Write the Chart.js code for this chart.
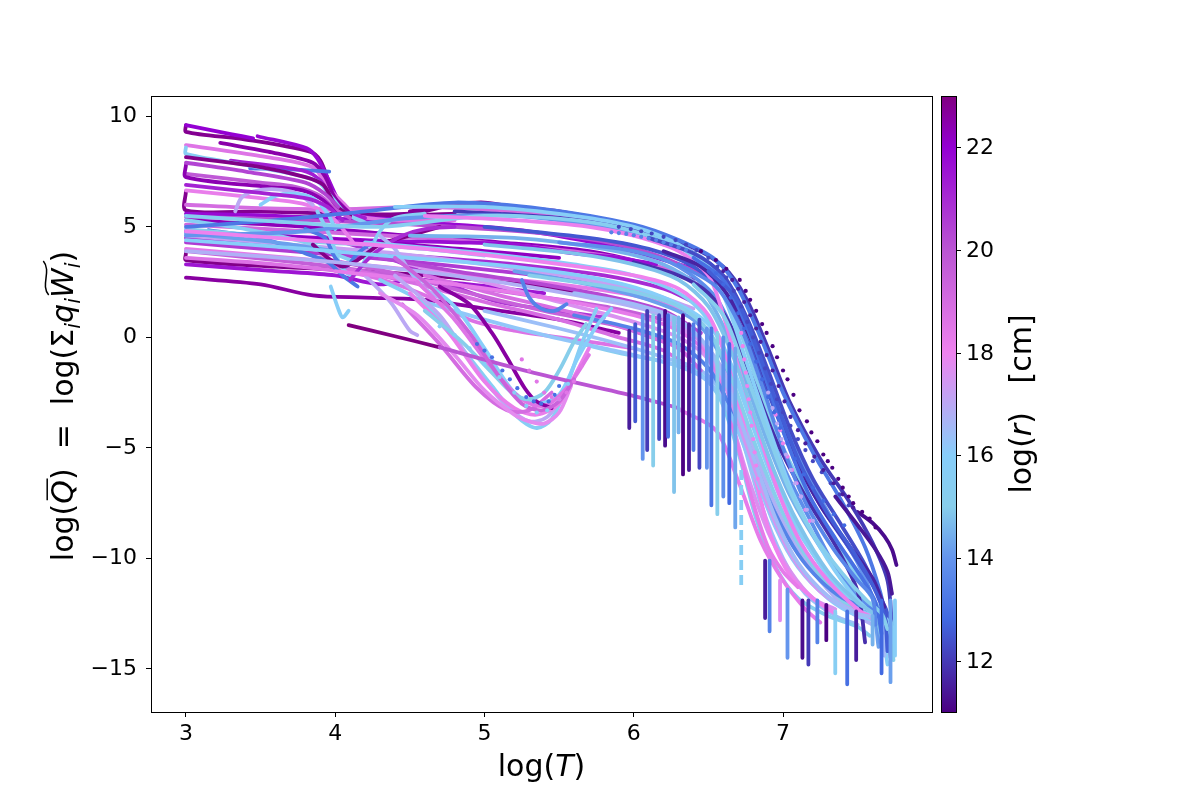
<!DOCTYPE html>
<html>
<head>
<meta charset="utf-8">
<script src="https://cdn.jsdelivr.net/npm/chart.js@4.4.1/dist/chart.umd.min.js"></script>
<style>
  html, body { margin: 0; padding: 0; background: #fff; }
  #wrap { width: 1200px; height: 800px; }
</style>
</head>
<body>
<div id="wrap"><canvas id="chart" width="1200" height="800"></canvas></div>
<script>
// ---- axis ticks ----
const xTicks = [3, 4, 5, 6, 7];
const yTicks = [-15, -10, -5, 0, 5, 10];
const cbTicks = [12, 14, 16, 18, 20, 22];

// colour scale for log(r)
const cmapStops = [[11, '#4b0082'], [12.8, '#4169e1'], [14, '#6495ed'], [15, '#87ceeb'],
  [16, '#87cefa'], [18, '#ee82ee'], [20, '#ba55d3'], [22, '#9400d3'], [23, '#800080']];

// ---- curves: [log T, log Q] points, one log r per curve ----
// high curves on the left that fall off near log T = 4
const topPaths = [
  [[3, 9.6], [3, 9.3], [3.4, 8.95], [3.83, 8.4], [3.9, 8.0], [3.96, 7.0], [4.03, 6.0], [4.12, 5.6], [4.4, 5.5], [4.8, 5.6]],
  [[3.48, 9.1], [3.81, 8.55], [3.88, 8.1], [3.95, 7.2], [4.04, 6.0], [4.15, 5.5], [4.5, 5.3]],
  [[3, 8.7], [3.5, 8.2], [3.85, 7.7], [3.95, 6.8], [4.05, 6.1], [4.15, 5.5], [4.4, 5.3], [4.8, 5.3]],
  [[3.23, 8.8], [3.55, 8.4], [3.85, 7.9], [3.93, 7.3], [4.0, 6.3], [4.1, 5.6]],
  [[3.43, 7.65], [3.7, 7.6], [3.96, 7.5]],
  [[3.3, 8.0], [3.78, 7.55], [3.9, 7.1], [3.97, 6.3], [4.05, 5.7], [4.2, 5.4]],
  [[3, 8.6], [3, 8.3], [3.4, 7.8], [3.87, 7.1], [3.97, 6.4], [4.07, 5.6], [4.2, 5.2]],
  [[3, 8.15], [3.5, 7.7], [3.8, 7.25], [3.92, 6.9], [4.0, 6.0], [4.1, 5.5]],
  [[3, 7.4], [3.5, 7.0], [3.74, 6.8], [3.9, 6.4], [4.0, 5.8], [4.1, 5.4]],
  [[3, 7.8], [3, 7.25], [3.56, 6.8], [3.78, 6.65], [3.92, 6.2], [4.02, 5.5]],
  [[3, 6.65], [3.5, 6.3], [3.78, 6.05], [3.95, 5.6], [4.05, 4.9], [4.12, 4.3]],
  [[3.33, 5.7], [3.37, 6.3], [3.45, 6.6], [3.6, 6.7], [3.75, 6.5], [3.85, 6.0]],
  [[3.5, 6.0], [3.6, 6.4], [3.72, 6.5], [3.85, 6.3], [3.95, 5.6], [4.0, 4.9]],
  [[3, 9.6], [3.3, 9.2], [3.45, 9.0]],
  [[3, 7.9], [3.4, 7.5], [3.8, 7.0], [3.93, 6.5], [4.02, 5.9]],
  [[3, 6.9], [3.4, 6.6], [3.8, 6.3], [3.95, 5.9], [4.05, 5.3]]
];
const topR = [22.8, 21.8, 18.6, 22.5, 13.2, 21.3, 15.6, 22.9, 19.8, 22.4, 18.2, 17.0, 16.0, 22.0, 20.4, 21.2];

// the wide band of large-r curves that stops before the steep fall
const bandPaths = [
  [[3, 6.6], [3, 5.75], [3.5, 5.7], [4.0, 5.6], [4.5, 5.6], [4.8, 6.0], [5.0, 6.1], [5.2, 5.9], [5.5, 5.7], [5.8, 5.3], [6.0, 4.9]],
  [[3, 5.6], [3.6, 5.5], [4.2, 5.3], [4.8, 5.1], [5.3, 4.8], [5.8, 4.2], [6.1, 3.7], [6.4, 3.1]],
  [[3, 5.45], [3.6, 5.35], [4.2, 5.2], [4.8, 5.0], [5.4, 4.7], [5.9, 4.2], [6.2, 3.6], [6.5, 2.7]],
  [[3, 5.3], [3.8, 5.0], [4.5, 4.6], [5.1, 4.3], [5.7, 3.9], [6.1, 3.3], [6.4, 2.6]],
  [[3, 5.1], [3.8, 4.8], [4.6, 4.5], [5.3, 4.1], [5.9, 3.6], [6.3, 2.9], [6.55, 1.8]],
  [[3, 4.5], [3.8, 4.1], [4.5, 3.7], [5.2, 3.3], [5.8, 2.8], [6.2, 2.2], [6.4, 1.6]],
  [[3, 4.3], [3.7, 3.9], [4.4, 3.5], [5.1, 3.0], [5.7, 2.5], [6.1, 1.9], [6.35, 1.2]],
  [[3, 3.8], [3, 3.5], [3.6, 3.2], [4.2, 3.0], [4.8, 2.7], [5.4, 2.3], [5.9, 1.7], [6.2, 1.1]],
  [[3, 2.7], [3.5, 2.4], [3.85, 1.9], [4.2, 1.8], [4.6, 1.7], [5.0, 1.3], [5.5, 0.8], [5.9, 0.2]],
  [[3, 3.9], [3.6, 3.5], [4.1, 3.1], [4.6, 2.6], [5.2, 2.0], [5.8, 1.4], [6.2, 0.8]],
  [[3, 3.3], [3.6, 3.0], [4.0, 2.8], [4.3, 2.4], [4.5, 2.6], [4.9, 2.4], [5.4, 2.0]],
  [[3, 4.0], [3.7, 3.6], [4.3, 3.2], [4.9, 2.8], [5.5, 2.4], [6.0, 1.9], [6.3, 1.3]],
  [[4.5, 5.7], [4.75, 6.0], [5.0, 6.0], [5.2, 5.6], [5.4, 5.6], [5.6, 5.3]],
  [[3.6, 4.6], [4.2, 4.4], [4.8, 4.3], [5.2, 4.2], [5.6, 3.8], [5.9, 3.6], [6.15, 3.3]],
  [[3, 6.0], [3.5, 5.85], [4.0, 5.8], [4.6, 5.9], [5.2, 5.7], [5.8, 5.2], [6.2, 4.6], [6.45, 3.6]],
  [[3.9, 4.6], [4.2, 4.0], [4.5, 3.2], [4.8, 2.3], [5.1, 1.6], [5.5, 1.2], [5.8, 0.9]],
  [[3, 3.6], [3.6, 3.3], [4.2, 2.8], [4.6, 1.9], [4.9, 0.8], [5.2, 0.3], [5.6, -0.1], [6.0, -0.5]],
  [[3, 4.8], [3.8, 4.5], [4.5, 4.2], [5.0, 3.9], [5.5, 3.6]],
  [[3, 4.6], [3.7, 4.2], [4.4, 3.8], [5.0, 3.3], [5.6, 2.7], [6.1, 2.0], [6.4, 1.3]]
];
const bandR = [22.8, 21.8, 20.2, 22.3, 19.2, 21.0, 20.6, 22.9, 22.6, 19.6, 21.5, 18.4, 22.7, 21.7, 19.0, 20.8, 18.7, 22.2, 17.2];

// mid-range curves filling the lower part of the band
const midPaths = [
  [[4.0, 3.2], [4.5, 2.5], [5.0, 1.6], [5.5, 0.8], [5.9, 0.0], [6.2, -0.6], [6.4, -1.5]],
  [[3.9, 3.6], [4.4, 2.9], [4.9, 2.0], [5.4, 1.2], [5.9, 0.5], [6.2, -0.2]],
  [[5.0, 1.2], [5.5, 0.4], [5.9, -0.3], [6.2, -0.9], [6.45, -1.5], [6.6, -2.6], [6.72, -4.5], [6.85, -7.5], [7.0, -10], [7.15, -11.6], [7.35, -12.6], [7.5, -13.0]],
  [[4.5, 3.3], [5.0, 2.5], [5.5, 1.6], [6.0, 0.7], [6.3, 0.0], [6.5, -1.0], [6.62, -3.0], [6.75, -6], [6.9, -8.8], [7.05, -10.6], [7.2, -11.8], [7.35, -12.3]],
  [[4.6, 2.8], [5.1, 1.9], [5.6, 1.1], [6.0, 0.3], [6.3, -0.5], [6.45, -1.5]],
  [[4.3, 3.6], [4.8, 3.0], [5.3, 2.5], [5.8, 1.9], [6.2, 1.2], [6.45, 0.2]],
  [[5.6, -0.2], [5.9, -0.7], [6.2, -1.1], [6.45, -1.7], [6.58, -2.8], [6.7, -5.2], [6.82, -8.2], [6.95, -10.4], [7.1, -11.8], [7.3, -12.6], [7.5, -13.1], [7.58, -13.5]],
  [[5.2, 3.0], [5.7, 2.4], [6.1, 1.7], [6.4, 0.8], [6.58, -0.8], [6.72, -3.4], [6.88, -6.5], [7.05, -9.0], [7.25, -11.0], [7.45, -12.2], [7.6, -12.6], [7.64, -14.0]]
];
const midR = [18.9, 19.5, 16.4, 17.6, 18.9, 20.3, 15.3, 14.2];

// small-r curves on the left and the wiggles near log T = 4
const leftPaths = [
  [[3, 5.3], [3.4, 4.9], [3.8, 4.3], [3.95, 3.9], [4.1, 3.5]],
  [[3.15, 4.85], [3.5, 4.5], [3.8, 3.8], [3.95, 3.4], [4.05, 2.8], [4.15, 2.3]],
  [[3, 4.9], [3.5, 4.6], [3.9, 4.3], [4.2, 4.2], [4.6, 4.0], [5.0, 3.7]],
  [[3, 4.7], [3.6, 4.3], [4.0, 3.9]],
  [[3.88, 5.7], [3.97, 4.5], [4.04, 3.2], [4.12, 2.8], [4.2, 3.5], [4.3, 4.8], [4.4, 5.4], [4.6, 5.6]],
  [[3.8, 4.9], [3.93, 4.5], [4.0, 3.6], [4.07, 3.2], [4.15, 3.8], [4.25, 4.3]],
  [[3.85, 4.2], [3.95, 3.6], [4.05, 3.2], [4.15, 3.5], [4.3, 4.2], [4.5, 4.6], [4.7, 5.0]],
  [[4.1, 2.6], [4.2, 3.4], [4.3, 4.0], [4.45, 4.6], [4.6, 4.9], [4.8, 5.0]],
  [[4.3, 4.6], [4.4, 4.0], [4.5, 3.0], [4.6, 2.2], [4.7, 1.8]],
  [[3.97, 2.3], [4.02, 1.3], [4.05, 0.9], [4.09, 1.2]],
  [[4.2, 2.8], [4.37, 1.6], [4.5, 0.3], [4.55, 0.1]]
];
const leftR = [15.5, 13.2, 15.0, 14.2, 15.6, 13.2, 22.9, 21.0, 16.8, 15.8, 17.0];

// curves that run through the knee and down the steep side
const steepPaths = [
  [[7.5, -7.9], [7.6, -8.4], [7.68, -9.0], [7.73, -9.6], [7.76, -10.3]],
  [[4.8, 5.7], [5.5, 5.4], [6.0, 4.9], [6.35, 4.2], [6.6, 3.2], [6.75, 1.8], [6.9, -0.5], [7.05, -3], [7.25, -5.5], [7.45, -7.5], [7.6, -9.3], [7.7, -11], [7.73, -13]],
  [[3, 5.0], [3.6, 5.3], [4.2, 5.7], [4.8, 6.1], [5.4, 5.8], [6.0, 5.1], [6.3, 4.4], [6.55, 3.5], [6.7, 2.2], [6.85, 0], [7.0, -2.5], [7.2, -5.2], [7.4, -7.5], [7.55, -9.5], [7.65, -11.5], [7.7, -13.0]],
  [[3, 4.6], [3.8, 4.8], [4.5, 5.4], [5.2, 5.5], [5.8, 5.0], [6.2, 4.4], [6.5, 3.4], [6.65, 2.0], [6.8, -0.5], [6.95, -3], [7.15, -6], [7.35, -8.5], [7.5, -10.2], [7.6, -11.8], [7.65, -13.8]],
  [[3, 5.5], [3.7, 5.2], [4.3, 5.0], [5.0, 5.5], [5.6, 5.3], [6.0, 4.8], [6.35, 3.9], [6.55, 2.5], [6.7, 0.5], [6.85, -2.5], [7.0, -5.0], [7.2, -7.6], [7.4, -9.8], [7.55, -11.3], [7.65, -12.3], [7.72, -12.8], [7.74, -14]],
  [[3, 4.4], [3.8, 4.0], [4.5, 3.6], [5.2, 3.2], [5.8, 2.6], [6.2, 1.8], [6.5, 0.6], [6.65, -1.2], [6.8, -3.8], [6.95, -6.5], [7.1, -8.6], [7.3, -10.8], [7.5, -12.3], [7.65, -12.8], [7.7, -13.6]],
  [[5.0, 5.0], [5.7, 4.5], [6.1, 4.0], [6.4, 3.2], [6.6, 2.0], [6.75, 0], [6.9, -2.5], [7.05, -5], [7.25, -7.6], [7.45, -9.6], [7.6, -11.2], [7.7, -12.5], [7.72, -14.5]],
  [[4.5, 4.6], [5.2, 4.5], [5.8, 4.0], [6.2, 3.3], [6.45, 2.2], [6.6, 0.5], [6.75, -2.0], [6.9, -4.8], [7.05, -7.2], [7.25, -9.5], [7.45, -11.3], [7.6, -12.3], [7.68, -13]],
  [[4.2, 4.3], [5.0, 3.8], [5.6, 3.3], [6.0, 2.8], [6.35, 1.8], [6.55, 0.3], [6.7, -2.2], [6.85, -5], [7.0, -7.5], [7.2, -9.8], [7.4, -11.5], [7.55, -12.5], [7.65, -12.9], [7.7, -14.8]],
  [[3, 3.9], [4.0, 3.4], [5.0, 2.6], [5.7, 1.8], [6.1, 1.2], [6.4, 0.2], [6.6, -1.5], [6.75, -4], [6.9, -6.8], [7.05, -9], [7.25, -11], [7.45, -12.4], [7.6, -13]],
  [[3, 4.8], [3.8, 4.4], [4.6, 4.0], [5.4, 3.4], [6.0, 2.8], [6.3, 2.2], [6.5, 1.0], [6.62, -1], [6.72, -3.5], [6.82, -6.5], [6.92, -9], [7.05, -10.8], [7.2, -11.8], [7.35, -12.5]],
  [[4.0, 3.0], [4.8, 2.4], [5.5, 1.7], [6.0, 1.0], [6.3, 0.3], [6.5, -0.8], [6.6, -2.5], [6.7, -5], [6.8, -7.5], [6.9, -9.5], [7.0, -10.6], [7.1, -11.3]],
  [[5.5, 4.3], [6.0, 3.9], [6.3, 3.2], [6.55, 1.8], [6.7, -0.3], [6.85, -3], [7.0, -5.8], [7.2, -8.5], [7.35, -10.4], [7.5, -11.8], [7.62, -12.4], [7.68, -14.2]],
  [[6.0, 3.4], [6.3, 2.8], [6.5, 2.0], [6.65, 0.5], [6.8, -2.0], [6.95, -4.6], [7.15, -7.2], [7.35, -9.4], [7.5, -11.5], [7.55, -13.8]],
  [[5.3, 2.8], [5.9, 2.2], [6.3, 1.4], [6.5, 0.3], [6.65, -1.8], [6.8, -4.6], [6.95, -7.2], [7.1, -9.3], [7.3, -11.2], [7.5, -12.5], [7.7, -13.1], [7.74, -14.6]],
  [[5.6, 1.0], [6.0, 0.4], [6.3, -0.3], [6.5, -1.4], [6.65, -3.2], [6.8, -5.7], [6.95, -8], [7.1, -9.8], [7.25, -11], [7.4, -11.8], [7.55, -12.2], [7.65, -12.3]],
  [[4.6, 1.6], [5.0, 0.8], [5.4, 0.1], [5.8, -0.5], [6.0, -0.8], [6.3, -1.3], [6.5, -2.0], [6.65, -3.5], [6.8, -6], [6.95, -8.6], [7.1, -10.4], [7.3, -11.8], [7.5, -12.6], [7.7, -12.9]],
  [[6.2, 0.8], [6.45, -0.2], [6.6, -2.0], [6.75, -4.8], [6.9, -7.6], [7.05, -9.8], [7.25, -11.5], [7.45, -12.3], [7.6, -12.6]],
  [[4.4, 5.9], [5.0, 5.9], [5.6, 5.5], [6.0, 5.0], [6.3, 4.2], [6.5, 3.2], [6.62, 1.6], [6.75, -1], [6.9, -4], [7.05, -6.8], [7.25, -9.5], [7.45, -11.5], [7.6, -12.5], [7.7, -12.8], [7.73, -13.8]],
  [[4.6, 5.5], [5.2, 5.3], [5.7, 5.0], [6.0, 4.6], [6.3, 3.9], [6.5, 2.8], [6.6, 1.0], [6.72, -1.8], [6.85, -4.6], [6.98, -7.2], [7.12, -9.3], [7.3, -11], [7.5, -12.3], [7.62, -12.8]],
  [[6.1, 4.5], [6.4, 3.8], [6.6, 2.8], [6.75, 1.0], [6.9, -1.5], [7.05, -4.2], [7.2, -6.4], [7.4, -8.6], [7.55, -10.3], [7.65, -11.8], [7.7, -13.2]],
  [[5.0, 4.2], [5.6, 3.8], [6.0, 3.3], [6.3, 2.6], [6.5, 1.4], [6.65, -0.6], [6.8, -3.4], [6.95, -6.2], [7.1, -8.4], [7.3, -10.6], [7.5, -12.0], [7.62, -12.6], [7.66, -13.6]],
  [[6.2, 3.9], [6.45, 3.2], [6.62, 2.0], [6.78, 0], [6.92, -2.6], [7.08, -5.4], [7.25, -7.6], [7.45, -9.5], [7.6, -10.9], [7.68, -12.2]],
  [[5.6, 2.0], [6.0, 1.5], [6.3, 0.8], [6.5, -0.5], [6.65, -2.6], [6.8, -5.4], [6.95, -8.2], [7.1, -10.2], [7.3, -11.7], [7.5, -12.5], [7.65, -12.8], [7.68, -14.4]],
  [[6.4, 3.6], [6.6, 2.6], [6.75, 0.6], [6.88, -1.8], [7.02, -4.6], [7.18, -7.2], [7.36, -9.2], [7.52, -10.8], [7.62, -12.0], [7.66, -13.4]],
  [[6.5, 3.0], [6.68, 1.8], [6.82, -0.4], [6.97, -3.2], [7.12, -5.8], [7.3, -8.0], [7.48, -9.8], [7.6, -11.2], [7.68, -12.6], [7.7, -14.2]],
  [[6.4, 2.4], [6.6, 1.0], [6.75, -1.6], [6.9, -4.4], [7.05, -7.0], [7.22, -9.1], [7.4, -10.7], [7.56, -11.9], [7.66, -12.5], [7.7, -13.2]],
  [[6.3, 3.3], [6.55, 2.3], [6.72, 0.4], [6.86, -2.2], [7.0, -5.0], [7.16, -7.6], [7.34, -9.6], [7.5, -11.0], [7.6, -11.8], [7.62, -13.0]],
  [[7.35, -7.2], [7.5, -8.5], [7.62, -9.6], [7.7, -10.6], [7.73, -11.6]]
];
const steepR = [11.2, 12.0, 13.2, 14.0, 15.3, 16.0, 12.5, 14.5, 15.8, 16.8, 18.0, 18.3, 13.8, 11.8, 15.0, 13.5, 16.2, 17.5, 15.8, 18.1, 12.3, 14.8, 11.6, 16.5, 13.0, 12.6, 15.1, 13.6, 11.4];

// curves dipping to a minimum near log T = 5.4, and the long low line
const dipPaths = [
  [[4.3, 2.6], [4.6, 1.5], [4.85, -0.5], [5.05, -2.2], [5.22, -3.6], [5.35, -4.1], [5.45, -3.7], [5.55, -2.2], [5.65, -0.3], [5.75, 1.3]],
  [[4.4, 2.8], [4.7, 1.0], [4.95, -1.5], [5.15, -3.1], [5.3, -3.8], [5.42, -3.6], [5.52, -2.7]],
  [[4.5, 2.0], [4.75, 0.3], [5.0, -2.0], [5.2, -3.2], [5.35, -3.5], [5.5, -3.0], [5.6, -1.8], [5.7, -0.5]],
  [[4.45, 1.5], [4.7, -0.3], [4.95, -2.3], [5.15, -3.3], [5.3, -3.3], [5.45, -2.5]],
  [[4.5, 3.0], [4.8, 1.4], [5.0, -0.5], [5.2, -2.5], [5.35, -3.0], [5.5, -2.6], [5.62, -1.0], [5.75, 0.5], [5.85, 1.3]],
  [[4.55, 2.5], [4.8, 0.8], [5.05, -1.4], [5.25, -2.8], [5.4, -3.1], [5.55, -2.3], [5.7, -0.8]],
  [[4.7, 2.3], [4.9, 1.5], [5.05, 0.2], [5.15, -0.9], [5.27, -2.3], [5.35, -2.9], [5.45, -3.2]],
  [[4.3, 2.0], [4.55, 1.0], [4.8, -0.8], [5.0, -2.4], [5.2, -3.5], [5.3, -3.8], [5.4, -3.9], [5.5, -3.4], [5.58, -2.2]],
  [[4.6, 1.2], [4.85, -0.2], [5.05, -1.6], [5.2, -2.6], [5.3, -2.8], [5.4, -2.5], [5.5, -1.5], [5.6, -0.2], [5.68, 0.6]],
  [[5.25, 2.6], [5.3, 1.8], [5.38, 1.3], [5.47, 1.2], [5.55, 1.5]],
  [[4.09, 0.55], [4.4, 0.05], [4.7, -0.45]],
  [[4.7, -0.45], [5.3, -1.55], [6.03, -2.7], [6.3, -3.2]],
  [[6.3, -3.25], [6.55, -4.2], [6.7, -6.5], [6.85, -9.2], [7.0, -11.0], [7.15, -12.3], [7.25, -12.9]],
  [[4.4, 3.6], [4.65, 2.2], [4.9, 0.2], [5.1, -1.8], [5.25, -3.0], [5.38, -3.3], [5.5, -2.9], [5.6, -1.9]]
];
const dipR = [15.6, 17.0, 18.2, 19.0, 16.0, 18.6, 22.6, 17.8, 15.0, 13.5, 23.0, 20.0, 18.3, 19.4];

// thin vertical drops: log T, top and bottom log Q, log r
const spikeX   = [5.97, 6.01, 6.06, 6.09, 6.13, 6.17, 6.21, 6.23, 6.27, 6.30, 6.33, 6.37, 6.40, 6.44, 6.49, 6.52, 6.56, 6.60, 6.64, 6.68, 6.88, 6.91, 6.98, 7.03, 7.13, 7.17, 7.23, 7.29, 7.35, 7.43, 7.49, 7.60, 7.66, 7.72, 7.75];
const spikeTop = [0.3, 0.6, 1.0, 1.2, 1.0, 1.0, 1.2, 1.0, 0.9, 0.9, 1.0, 0.6, 0.6, 0.8, 0.4, 0.4, 0.2, 0.0, -0.3, -0.5, -10.1, -10.1, -11.0, -11.4, -11.9, -11.9, -11.9, -12.1, -12.4, -12.4, -12.4, -12.6, -11.9, -11.9, -11.9];
const spikeBot = [-4.1, -3.8, -5.5, -5.1, -5.8, -4.6, -4.9, -4.5, -7.0, -4.3, -6.2, -6.0, -5.1, -5.9, -5.9, -7.6, -8.0, -7.2, -7.5, -8.6, -12.7, -13.3, -12.8, -14.5, -14.5, -14.8, -13.8, -13.7, -15.2, -15.7, -14.6, -13.9, -15.2, -15.6, -14.4];
const spikeR   = [11.5, 12.5, 14.0, 12.0, 15.0, 12.2, 11.2, 13.0, 14.8, 14.5, 11.0, 11.4, 13.3, 12.2, 14.0, 13.1, 15.0, 13.8, 12.8, 14.3, 11.5, 13.5, 17.8, 14.0, 11.2, 12.0, 13.5, 11.0, 15.5, 13.0, 11.5, 14.5, 12.8, 14.2, 15.8];
// broken light-blue drop at log T = 6.72
const dashX = 6.72, dashTop = -6.0, dashBot = -11.4, dashR = 15.6;

// series drawn as loose dots
const dotPaths = [
  [[6.45, 3.9], [6.55, 3.5], [6.62, 3.1], [6.71, 2.6], [6.75, 2.1], [6.78, 1.7], [6.82, 1.2], [6.86, 0.6], [6.89, 0.2], [6.93, -0.4], [6.96, -0.9], [7.0, -1.5], [7.03, -1.9], [7.07, -2.6], [7.11, -3.3], [7.16, -3.8], [7.19, -4.3], [7.23, -4.7], [7.27, -5.3], [7.3, -5.6], [7.33, -5.9], [7.37, -6.4], [7.4, -6.8], [7.44, -7.2], [7.47, -7.5], [7.53, -7.9], [7.58, -8.2], [7.62, -8.6]],
  [[5.9, 5.0], [5.98, 4.9], [6.05, 4.8], [6.12, 4.7], [6.2, 4.55], [6.28, 4.4], [6.35, 4.2], [6.42, 3.95], [6.5, 3.6], [6.56, 3.2], [6.62, 2.7], [6.67, 2.1], [6.72, 1.4], [6.76, 0.7], [6.8, 0], [6.84, -0.7], [6.88, -1.4], [6.92, -2.1], [6.96, -2.8], [7.0, -3.4], [7.05, -4.0], [7.1, -4.6], [7.15, -5.1], [7.2, -5.6], [7.26, -6.1], [7.32, -6.6], [7.38, -7.1], [7.44, -7.6]],
  [[5.85, 4.75], [5.9, 4.72], [5.95, 4.68], [6.0, 4.62], [6.05, 4.55], [6.1, 4.48], [6.15, 4.4], [6.2, 4.3], [6.25, 4.2], [6.3, 4.08], [6.35, 3.95]],
  [[6.72, 0.2], [6.73, -0.4], [6.74, -1.0], [6.75, -1.6], [6.76, -2.2], [6.77, -2.8], [6.78, -3.4], [6.79, -4.0], [6.8, -4.6], [6.81, -5.2], [6.82, -5.8], [6.83, -6.4], [6.84, -7.0], [6.86, -7.6], [6.88, -8.2]],
  [[6.95, -3.5], [6.98, -4.2], [7.0, -4.8], [7.03, -5.4], [7.06, -6.0], [7.09, -6.6], [7.12, -7.2], [7.15, -7.8], [7.18, -8.3]],
  [[4.7, 0.5], [4.8, 0.1], [4.9, -0.5], [5.0, -1.2], [5.1, -1.8], [5.2, -2.5], [5.28, -3.1], [5.35, -3.4], [5.42, -3.3], [5.5, -2.8], [5.56, -2.1]],
  [[4.95, -0.3], [5.0, -0.6], [5.05, -0.9], [5.12, -1.5], [5.17, -1.9], [5.22, -2.3], [5.28, -2.7], [5.33, -2.9], [5.38, -3.0], [5.43, -2.9], [5.47, -2.6], [5.5, -2.2]],
  [[5.25, -1.0], [5.3, -1.5], [5.35, -2.0], [5.4, -2.5], [5.45, -2.7], [5.5, -2.8], [5.55, -2.5], [5.6, -2.0], [5.65, -1.3]],
  [[6.9, -2.5], [6.93, -3.2], [6.96, -3.9], [6.99, -4.6], [7.02, -5.3], [7.05, -6.0], [7.08, -6.6], [7.12, -7.2], [7.16, -7.8], [7.2, -8.3]],
  [[6.55, 2.9], [6.6, 2.4], [6.65, 1.8], [6.7, 1.1], [6.74, 0.4], [6.78, -0.3], [6.82, -1.1], [6.86, -1.9], [6.9, -2.7], [6.94, -3.4], [6.98, -4.1], [7.03, -4.8], [7.08, -5.5], [7.14, -6.2], [7.2, -6.8], [7.27, -7.4], [7.34, -8.0], [7.41, -8.5]],
  [[6.6, 3.0], [6.66, 2.6], [6.7, 2.2], [6.74, 1.6], [6.78, 1.0], [6.82, 0.4], [6.85, -0.2], [6.89, -0.8], [6.93, -1.5], [6.97, -2.2], [7.01, -2.9], [7.05, -3.6], [7.1, -4.2], [7.15, -4.8], [7.21, -5.4], [7.27, -6.0], [7.34, -6.6], [7.4, -7.1], [7.47, -7.7]]
];
const dotR = [11.0, 12.2, 13.5, 18.0, 18.1, 15.7, 13.0, 18.5, 17.0, 12.8, 11.5];

// ---- colour map ----
function hexRgb(h) {
  return [parseInt(h.slice(1, 3), 16), parseInt(h.slice(3, 5), 16), parseInt(h.slice(5, 7), 16)];
}
function cmap(v) {
  v = Math.max(11, Math.min(23, v));
  for (let i = 0; i < cmapStops.length - 1; i++) {
    const [a, ca] = cmapStops[i];
    const [b, cb] = cmapStops[i + 1];
    if (v <= b) {
      const t = (v - a) / (b - a);
      const p = hexRgb(ca), q = hexRgb(cb);
      const c = p.map((u, k) => Math.round(u + (q[k] - u) * t));
      return `rgb(${c[0]},${c[1]},${c[2]})`;
    }
  }
  return cmapStops[cmapStops.length - 1][1];
}

// ---- datasets, collected bottom to top ----
const layers = [];
function addLine(pts, r, extra) {
  layers.push(Object.assign({
    data: pts.map(([x, y]) => ({ x, y })),
    showLine: true,
    borderColor: cmap(r),
    backgroundColor: cmap(r),
    borderWidth: 3.8,
    pointRadius: 0,
    pointHoverRadius: 0,
    tension: 0.3,
    borderCapStyle: 'round',
    borderJoinStyle: 'round'
  }, extra || {}));
}
function addDots(pts, r) {
  layers.push({
    data: pts.map(([x, y]) => ({ x, y })),
    showLine: false,
    pointRadius: 2.1,
    pointHoverRadius: 0,
    pointBorderWidth: 0,
    pointBackgroundColor: cmap(r),
    borderColor: cmap(r),
    backgroundColor: cmap(r)
  });
}

bandPaths.forEach((p, i) => addLine(p, bandR[i]));
topPaths.forEach((p, i) => addLine(p, topR[i]));
midPaths.forEach((p, i) => addLine(p, midR[i]));
leftPaths.forEach((p, i) => addLine(p, leftR[i]));
steepPaths.forEach((p, i) => addLine(p, steepR[i]));
dipPaths.forEach((p, i) => addLine(p, dipR[i]));
spikeX.forEach((x, i) => addLine([[x, spikeTop[i]], [x, spikeBot[i]]], spikeR[i], { tension: 0 }));
addLine([[dashX, dashTop], [dashX, dashBot]], dashR, { tension: 0, borderDash: [10, 5], borderCapStyle: 'butt' });
dotPaths.forEach((p, i) => addDots(p, dotR[i]));

const datasets = layers.slice().reverse(); // index 0 is painted last

// ---- text helpers for the math-style labels ----
const FONT = '"DejaVu Sans", "Liberation Sans", sans-serif';
function measureParts(ctx, parts, size) {
  let w = 0;
  const items = parts.map(p => {
    const s = p.sub ? size * 0.7 : size;
    const f = (p.it ? 'italic ' : '') + s + 'px ' + FONT;
    ctx.font = f;
    const m = ctx.measureText(p.t).width;
    w += m;
    return Object.assign({}, p, { f, m, s });
  });
  return { items, w };
}
function renderParts(ctx, items, x0, base, size) {
  let x = x0;
  items.forEach((it, k) => {
    ctx.font = it.f;
    const yo = it.sub ? size * 0.22 : 0;
    ctx.fillText(it.t, x, base + yo);
    ctx.lineWidth = size * 0.05;
    if (it.bar) {
      ctx.beginPath();
      ctx.moveTo(x + size * 0.12, base - size * 0.86);
      ctx.lineTo(x + it.m + size * 0.05, base - size * 0.86);
      ctx.stroke();
    }
    if (it.tilde) {
      const nxt = items[k + 1] && items[k + 1].sub ? items[k + 1].m : 0;
      const x1 = x + size * 0.1, x2 = x + it.m + nxt + size * 0.05;
      const yb = base - size * 0.9, a = size * 0.09;
      ctx.beginPath();
      ctx.moveTo(x1, yb + a);
      ctx.bezierCurveTo(x1 + (x2 - x1) * 0.3, yb - a * 2.2, x1 + (x2 - x1) * 0.7, yb + a * 2.2, x2, yb - a);
      ctx.stroke();
    }
    x += it.m;
  });
}
function drawLabel(ctx, parts, size, cx, cy, rotated) {
  ctx.save();
  ctx.translate(cx, cy);
  if (rotated) ctx.rotate(-Math.PI / 2);
  ctx.fillStyle = '#000';
  ctx.strokeStyle = '#000';
  ctx.textBaseline = 'alphabetic';
  ctx.textAlign = 'left';
  const { items, w } = measureParts(ctx, parts, size);
  renderParts(ctx, items, -w / 2, 0, size);
  ctx.restore();
}

const xLabel = [{ t: 'log(' }, { t: 'T', it: 1 }, { t: ')' }];
const yLabel = [{ t: 'log(' }, { t: 'Q', it: 1, bar: 1 }, { t: ')' }, { t: '  =  ' }, { t: 'log(' }, { t: 'Σ' },
  { t: 'i', it: 1, sub: 1 }, { t: 'q', it: 1 }, { t: 'i', it: 1, sub: 1 }, { t: 'W', it: 1, tilde: 1 },
  { t: 'i', it: 1, sub: 1 }, { t: ')' }];
const cbLabel = [{ t: 'log(' }, { t: 'r', it: 1 }, { t: ')   [cm]' }];

const decorPlugin = {
  id: 'decor',
  afterDraw(chart) {
    const ctx = chart.ctx;
    const ca = chart.chartArea;
    ctx.save();
    // frame
    ctx.strokeStyle = '#000';
    ctx.lineWidth = 1;
    ctx.strokeRect(Math.round(ca.left) + 0.5, Math.round(ca.top) + 0.5,
      Math.round(ca.right - ca.left), Math.round(ca.bottom - ca.top));

    // colour bar
    const cbL = 941, cbW = 15, cbT = ca.top, cbB = ca.bottom;
    const g = ctx.createLinearGradient(0, cbB, 0, cbT);
    cmapStops.forEach(([v, c]) => g.addColorStop((v - 11) / 12, c));
    ctx.fillStyle = g;
    ctx.fillRect(cbL, cbT, cbW, cbB - cbT);
    ctx.strokeRect(cbL + 0.5, Math.round(cbT) + 0.5, cbW, Math.round(cbB - cbT));
    ctx.fillStyle = '#000';
    ctx.font = '22px ' + FONT;
    ctx.textAlign = 'left';
    ctx.textBaseline = 'middle';
    cbTicks.forEach(v => {
      const y = Math.round(cbB - (v - 11) / 12 * (cbB - cbT)) + 0.5;
      ctx.beginPath();
      ctx.moveTo(cbL + cbW, y);
      ctx.lineTo(cbL + cbW + 5, y);
      ctx.stroke();
      ctx.fillText(String(v), cbL + cbW + 10, y + 1);
    });
    ctx.restore();

    drawLabel(ctx, xLabel, 30, (ca.left + ca.right) / 2, 776, false);
    drawLabel(ctx, yLabel, 30, 73, 406, true);
    drawLabel(ctx, cbLabel, 30, 1031, 404, true);
  }
};

const tickFont = { family: FONT, size: 22 };
new Chart(document.getElementById('chart'), {
  type: 'scatter',
  data: { datasets },
  options: {
    responsive: false,
    devicePixelRatio: 1,
    animation: false,
    events: [],
    layout: { padding: { left: 0, right: 268, top: 96, bottom: 0 } },
    plugins: { legend: { display: false }, tooltip: { enabled: false } },
    scales: {
      x: {
        type: 'linear', min: 2.766, max: 7.998,
        afterBuildTicks: s => { s.ticks = xTicks.map(v => ({ value: v })); },
        afterFit: s => { s.height = 88; },
        ticks: { font: tickFont, color: '#000', padding: 4, maxRotation: 0, autoSkip: false },
        grid: { drawOnChartArea: false, tickLength: 5, tickColor: '#000', color: '#000' },
        border: { display: true, color: '#000', width: 1 }
      },
      y: {
        type: 'linear', min: -16.95, max: 10.92,
        afterBuildTicks: s => { s.ticks = yTicks.map(v => ({ value: v })); },
        afterFit: s => { s.width = 151; },
        ticks: {
          font: tickFont, color: '#000', padding: 9, autoSkip: false,
          callback: v => String(v).replace('-', '\u2212')
        },
        grid: { drawOnChartArea: false, tickLength: 5, tickColor: '#000', color: '#000' },
        border: { display: true, color: '#000', width: 1 }
      }
    }
  },
  plugins: [decorPlugin]
});
</script>
</body>
</html>
